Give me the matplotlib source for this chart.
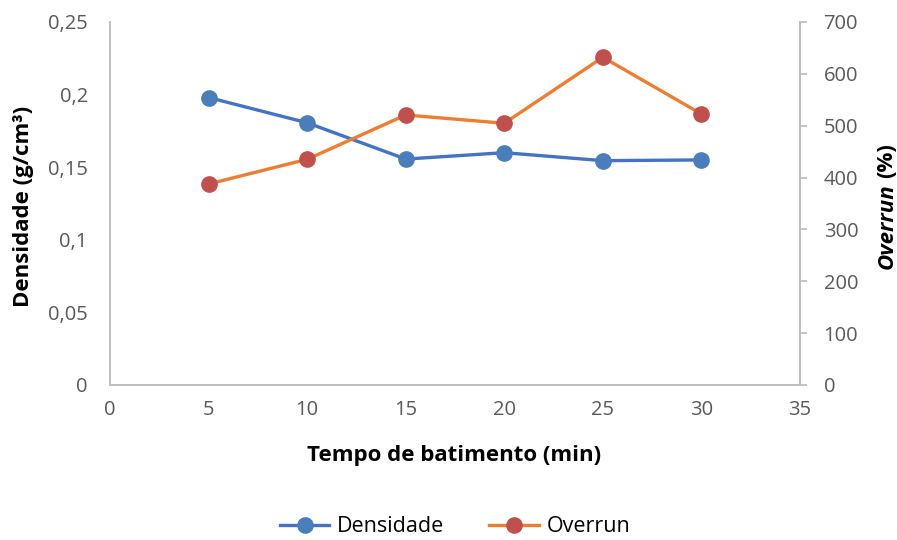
import matplotlib
matplotlib.use("Agg")
import matplotlib.pyplot as plt
from matplotlib.ticker import FuncFormatter

# Data
tempo = [5, 10, 15, 20, 25, 30]
densidade = [0.198, 0.1806, 0.1556, 0.160, 0.1545, 0.155]
overrun = [387.6, 435.2, 520.7, 504.7, 632.0, 522.6]

x_ticks = [0, 5, 10, 15, 20, 25, 30, 35]
left_ticks = [0, 0.05, 0.10, 0.15, 0.20, 0.25]
right_ticks = [0, 100, 200, 300, 400, 500, 600, 700]

plt.rcParams['font.family'] = ['Open Sans', 'DejaVu Sans']

blue_line = '#4472C4'
blue_mark = '#4A7EBB'
orange_line = '#ED7D31'
red_mark = '#C0504D'
grey_txt = '#595959'
spine_c = '#BFBFBF'

fig = plt.figure(figsize=(8.97, 5.40), dpi=100)
ax = fig.add_axes([110 / 897, 1 - 385 / 540, 690 / 897, 363 / 540])
ax2 = ax.twinx()

l1, = ax.plot(tempo, densidade, color=blue_line, lw=2.4, marker='o', ms=11,
              mfc=blue_mark, mec=blue_mark, label='Densidade', zorder=3)
l2, = ax2.plot(tempo, overrun, color=orange_line, lw=2.4, marker='o', ms=11,
               mfc=red_mark, mec=red_mark, label='Overrun', zorder=3)

ax.set_xlim(0, 35)
ax.set_ylim(0, 0.25)
ax2.set_ylim(0, 700)
ax.set_xticks(x_ticks)
ax.set_yticks(left_ticks)
ax2.set_yticks(right_ticks)

def comma_fmt(v, pos):
    s = f"{v:.2f}".rstrip('0').rstrip('.')
    return s.replace('.', ',')

ax.yaxis.set_major_formatter(FuncFormatter(comma_fmt))

for a in (ax, ax2):
    for s in a.spines.values():
        s.set_color(spine_c)
        s.set_linewidth(1.3)
    a.spines['top'].set_visible(False)

tick_fs = 14.5
ax.tick_params(axis='x', length=0, pad=11, labelsize=tick_fs, labelcolor=grey_txt)
ax.tick_params(axis='y', length=0, pad=16, labelsize=tick_fs, labelcolor=grey_txt)
ax2.tick_params(axis='y', length=5, width=1.3, color=spine_c, pad=12,
                labelsize=tick_fs, labelcolor=grey_txt)

lab_fs = 16
fig.text(454 / 897, 1 - 456 / 540, 'Tempo de batimento (min)', fontsize=lab_fs,
         fontweight='bold', ha='center', va='center')
fig.text(23 / 897, 1 - 206 / 540, 'Densidade (g/cm³)', rotation=90,
         fontsize=lab_fs, fontweight='bold', ha='center', va='center')

# Right axis title: italic "Overrun" followed by "(%)"
t1 = fig.text(887 / 897, 1 - 269 / 540, 'Overrun', rotation=90,
              fontsize=lab_fs, fontweight='bold', style='italic',
              ha='center', va='bottom')
fig.canvas.draw()
bb = t1.get_window_extent(fig.canvas.get_renderer())
fig.text(887 / 897, (bb.y1 + 5) / fig.bbox.height, '(%)', rotation=90,
         fontsize=lab_fs, fontweight='bold', ha='center', va='bottom')

fig.legend(handles=[l1, l2], loc='center', bbox_to_anchor=(455 / 897, 1 - 527 / 540),
           ncol=2, frameon=False, fontsize=15.5, handlelength=2.3,
           columnspacing=2.1, handletextpad=0.35)

fig.savefig('out.png', dpi=100, facecolor='white')
